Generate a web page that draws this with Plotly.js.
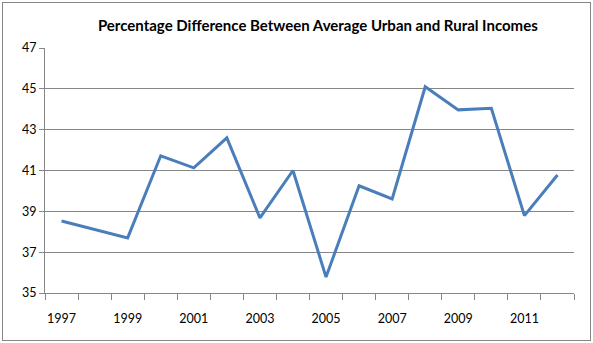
<!DOCTYPE html>
<html>
<head>
<meta charset="utf-8">
<script src="https://cdn.plot.ly/plotly-3.0.1.min.js"></script>
<style>
html,body{margin:0;padding:0;background:#fff;}
#wrap{position:relative;width:593px;height:343px;}
#chart{position:absolute;left:0;top:0;width:593px;height:343px;}
#frame{position:absolute;left:2px;top:2px;width:587px;height:337px;border:1px solid #868686;pointer-events:none;}
</style>
</head>
<body>
<div id="wrap"><div id="chart"></div><div id="frame"></div></div>
<script>
const years = [1997,1998,1999,2000,2001,2002,2003,2004,2005,2006,2007,2008,2009,2010,2011,2012];
const values = [38.53,38.12,37.70,41.72,41.13,42.60,38.68,41.00,35.78,40.25,39.61,45.10,43.97,44.05,38.79,40.78];
const xTickLabels = ['1997','1999','2001','2003','2005','2007','2009','2011'];
const yTicks = [35,37,39,41,43,45,47];

const xTickVals = xTickLabels.map(Number);
const boundaries = years.map(y => y - 0.5).concat([years[years.length-1] + 0.5]);

const trace = {
  x: years, y: values, type: 'scatter', mode: 'lines',
  line: {color: '#4a7ebb', width: 3}, hoverinfo: 'skip'
};

const layout = {
  width: 593, height: 343,
  margin: {l: 45, r: 19, t: 48, b: 50},
  paper_bgcolor: '#fff', plot_bgcolor: '#fff',
  font: {family: 'Lato, "Open Sans", sans-serif', size: 12, color: '#000'},
  title: {text: '<b>Percentage Difference Between Average Urban and Rural Incomes</b>',
          font: {size: 15, color: '#000', family: 'Lato, "Open Sans", sans-serif'},
          x: 0.536, xanchor: 'center', y: 0.925, yanchor: 'middle'},
  showlegend: false,
  xaxis: {
    type: 'linear', range: [boundaries[0], boundaries[boundaries.length-1]],
    tickmode: 'array', tickvals: xTickVals, ticktext: xTickLabels,
    ticks: '', showgrid: false, zeroline: false,
    showline: true, linecolor: '#868686', linewidth: 1,
    ticklabelstandoff: 14,
    tickfont: {size: 12.5, color: '#000'},
    minor: {tickmode: 'array', tickvals: boundaries, ticks: 'outside', ticklen: 6, tickcolor: '#868686', tickwidth: 1, showgrid: false}
  },
  yaxis: {
    range: [35, 47], tickmode: 'array', tickvals: yTicks,
    ticks: 'outside', ticklen: 5, tickcolor: '#868686',
    showgrid: true, gridcolor: '#868686', gridwidth: 1,
    zeroline: false, showline: true, linecolor: '#868686', linewidth: 1,
    tickfont: {size: 12.5, color: '#000'}
  }
};

Plotly.newPlot('chart', [trace], layout, {displayModeBar: false, staticPlot: true});
</script>
</body>
</html>
